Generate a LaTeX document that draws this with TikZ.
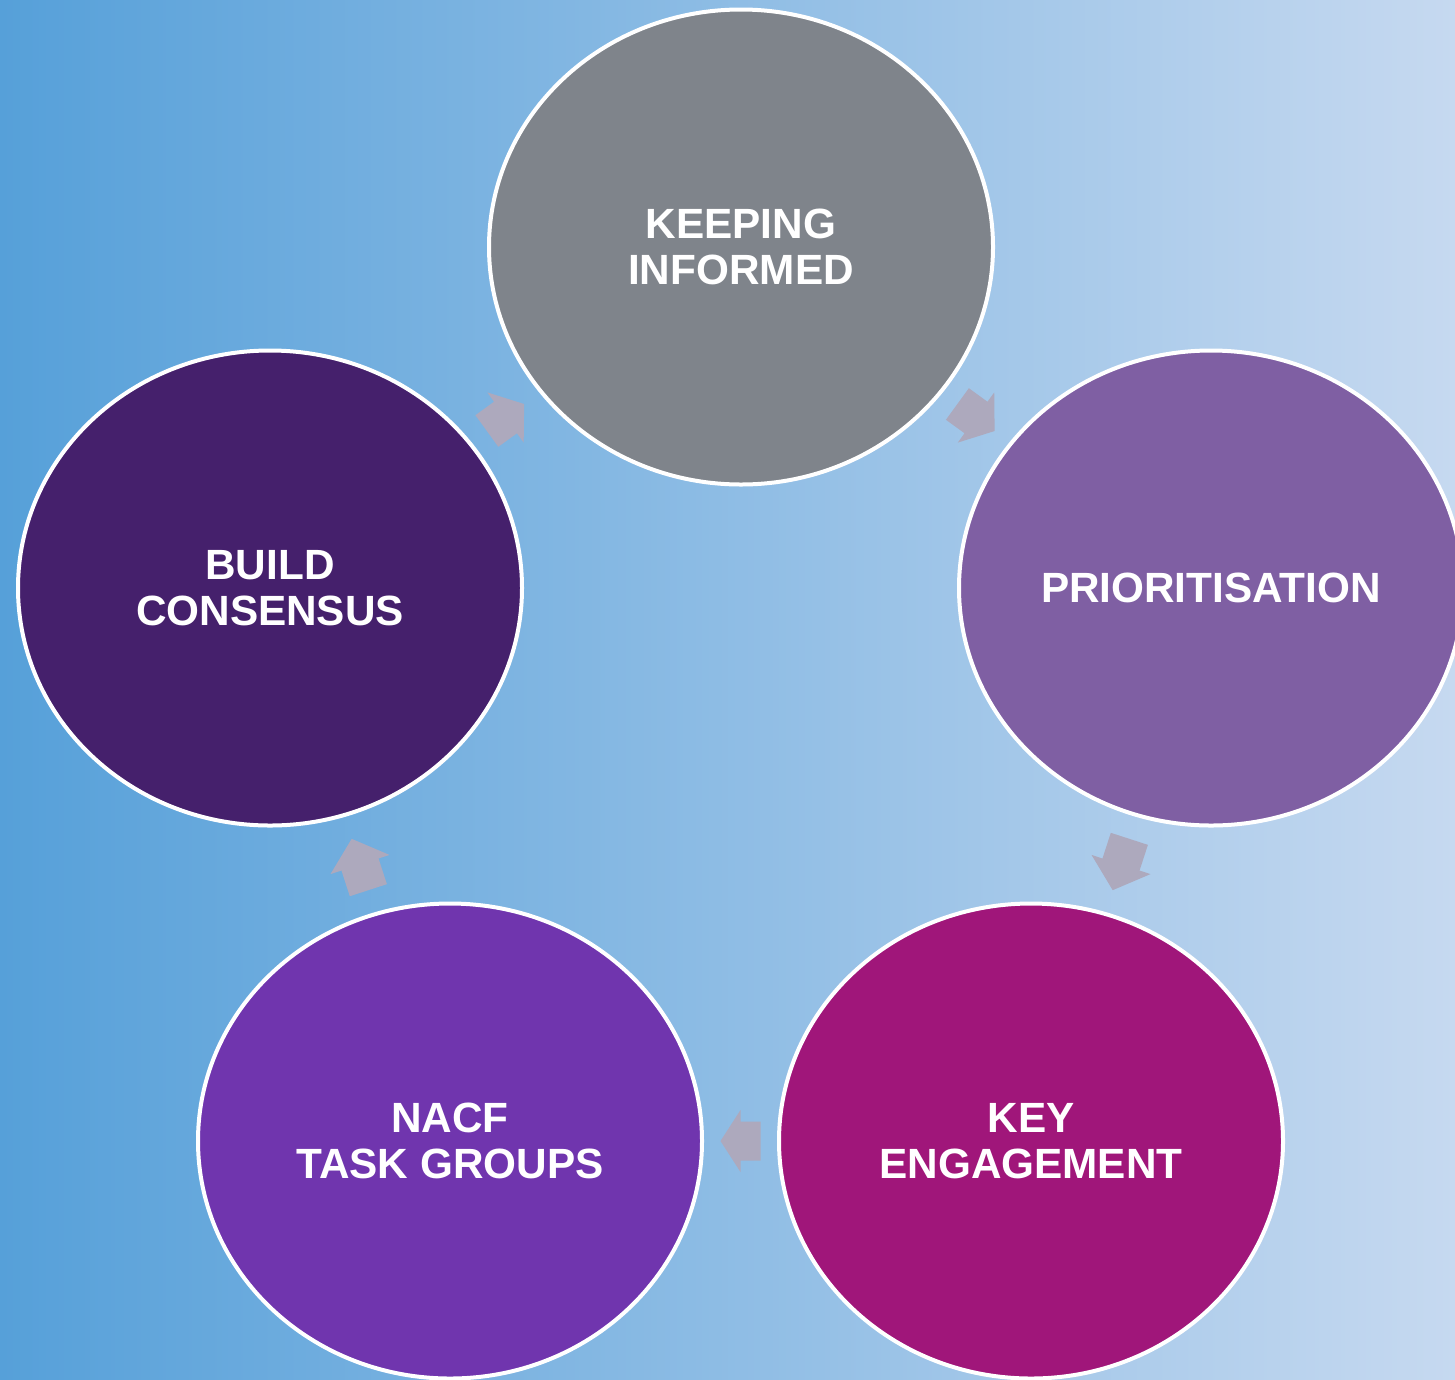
\documentclass[tikz,border=0pt]{standalone}
\usepackage{fontspec}
\setmainfont{Liberation Sans}
\usetikzlibrary{calc,shapes.geometric}
\definecolor{bgL}{HTML}{56A0D9}
\definecolor{bgR}{HTML}{C6D9F0}
\definecolor{cKI}{HTML}{7F848B}
\definecolor{cPR}{HTML}{7F5FA3}
\definecolor{cKE}{HTML}{A0167A}
\definecolor{cNT}{HTML}{7035AE}
\definecolor{cBC}{HTML}{45206C}
\definecolor{arr}{HTML}{ADA9BD}
\tikzset{
  ellipse shape/.style={shape=ellipse, inner sep=0pt, minimum width=504pt, minimum height=475pt},
  stage/.style={ellipse shape, draw=white, line width=4pt, text=white,
    font=\bfseries\fontsize{42.3}{45.5}\selectfont, align=center},
  blockarr/.style={fill=arr, draw=none}
}
\newcommand\blockarrow[4]{%
  \begin{scope}[shift={($(#1.center)!0.5!(#2.center)$)}, rotate=#3]
    \fill[blockarr] (-#4/2,-19.5) -- (0,-19.5) -- (0,-31) -- (#4/2,0) -- (0,31) -- (0,19.5) -- (-#4/2,19.5) -- cycle;
  \end{scope}}
\begin{document}
\begin{tikzpicture}[x=1pt,y=-1pt]
  \useasboundingbox (0,0) rectangle (1455,1379);
  \clip (0,0) rectangle (1455,1379);
  \shade[left color=bgL, right color=bgR] (0,0) rectangle (1455,1379);
  \node[stage, fill=cKI] (ki) at (741,247) {KEEPING\\INFORMED};
  \node[stage, fill=cPR] (pr) at (1211,588) {PRIORITISATION};
  \node[stage, fill=cKE] (ke) at (1031,1141) {KEY\\ENGAGEMENT};
  \node[stage, fill=cNT] (nt) at (450,1141) {NACF\\TASK GROUPS};
  \node[stage, fill=cBC] (bc) at (270,588) {BUILD\\CONSENSUS};
  \blockarrow{bc}{ki}{35.9}{46}
  \blockarrow{ki}{pr}{-36}{46}
  \blockarrow{pr}{ke}{-108}{54}
  \blockarrow{ke}{nt}{180}{40}
  \blockarrow{nt}{bc}{108}{54}
\end{tikzpicture}
\end{document}
